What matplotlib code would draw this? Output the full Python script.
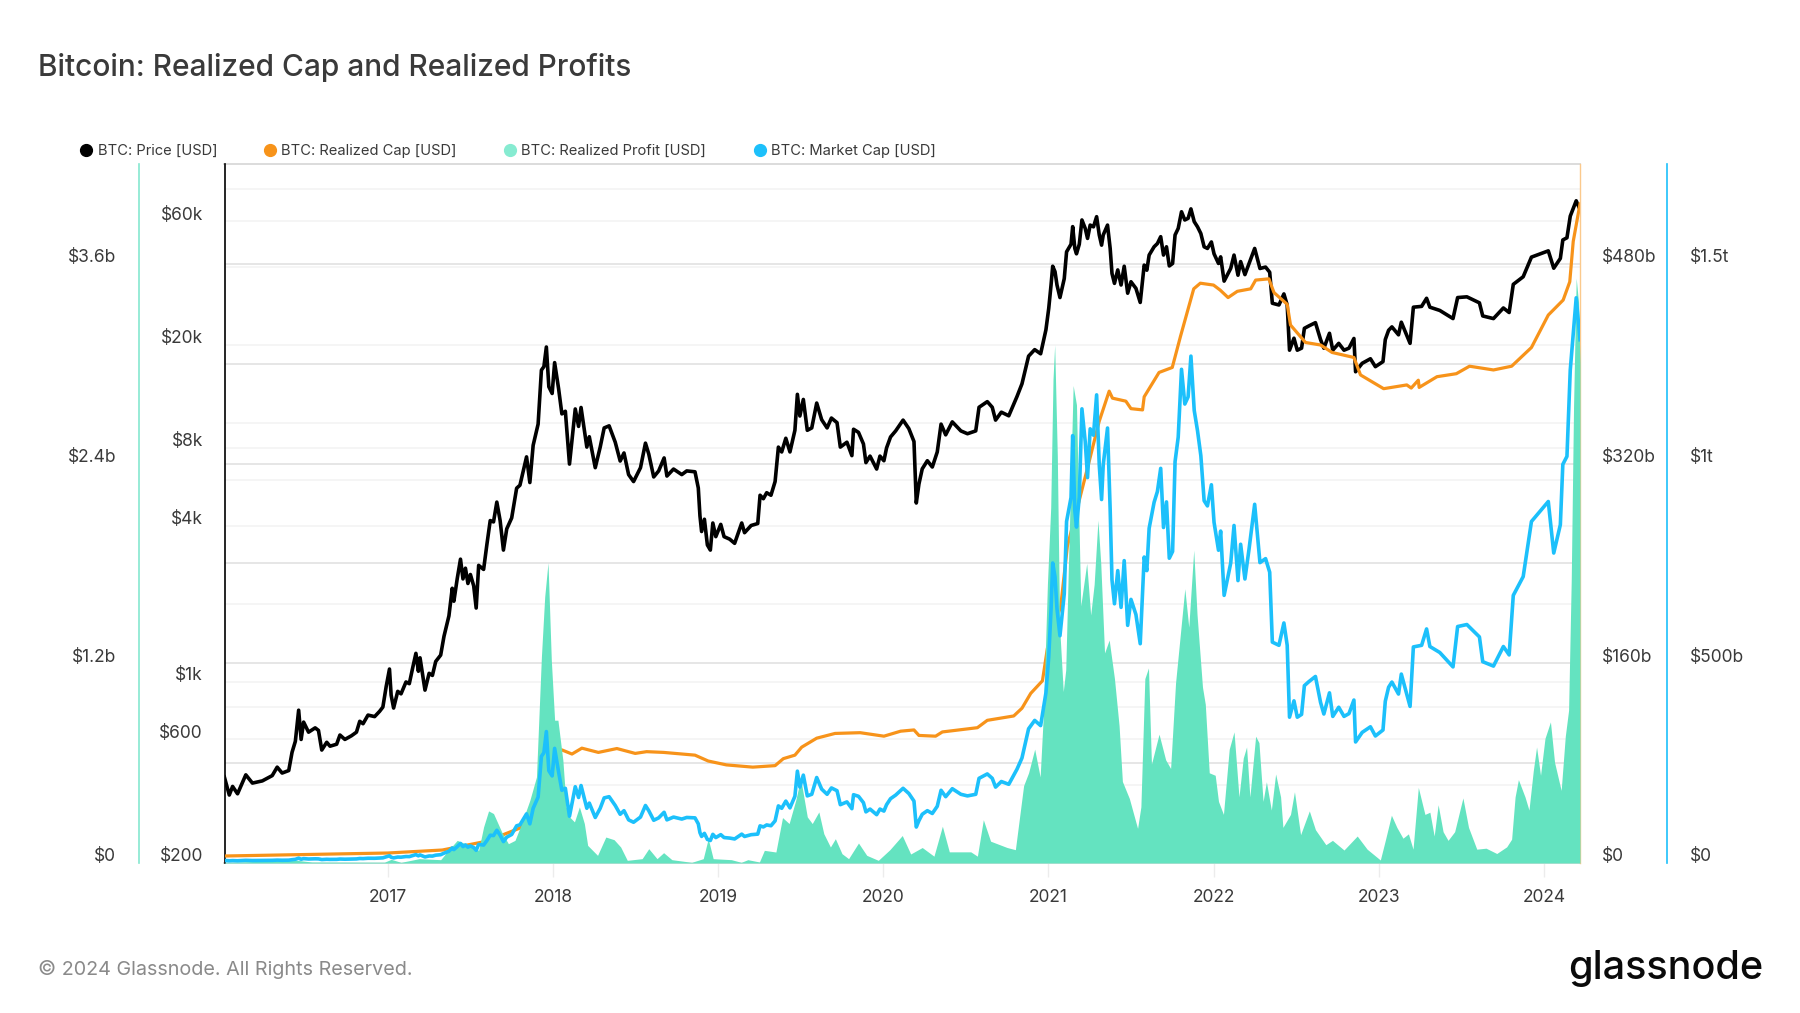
#Bitcoin realized cap and realized profits chart

#import statements
import matplotlib
matplotlib.use("Agg")
import matplotlib.pyplot as plt
from matplotlib.lines import Line2D
from matplotlib.transforms import ScaledTranslation

plt.rcParams['font.family'] = ['Inter', 'DejaVu Sans']

#price and market cap share the same dates (decimal years)
price_years = [2016.01, 2016.04, 2016.06, 2016.09, 2016.14, 2016.18, 2016.24, 2016.30, 2016.33, 2016.36, 2016.40, 2016.42, 2016.44, 2016.46, 2016.475, 2016.49, 2016.52, 2016.56, 2016.58, 2016.60, 2016.63, 2016.65, 2016.69, 2016.71, 2016.74, 2016.78, 2016.81, 2016.83, 2016.85, 2016.88, 2016.92, 2016.95, 2016.97, 2016.99,
    2017.01, 2017.02, 2017.035, 2017.06, 2017.08, 2017.11, 2017.13, 2017.15, 2017.17, 2017.185, 2017.195, 2017.225, 2017.25, 2017.27, 2017.29, 2017.32, 2017.34, 2017.37, 2017.39, 2017.40, 2017.42, 2017.44, 2017.455, 2017.47, 2017.485, 2017.50, 2017.52, 2017.535, 2017.55, 2017.58, 2017.60, 2017.62, 2017.64, 2017.66, 2017.68, 2017.70, 2017.72, 2017.75, 2017.78, 2017.80, 2017.84, 2017.86, 2017.88, 2017.91, 2017.93, 2017.945, 2017.96, 2017.975, 2017.995,
    2018.01, 2018.034, 2018.054, 2018.075, 2018.10, 2018.135, 2018.155, 2018.17, 2018.205, 2018.22, 2018.256, 2018.286, 2018.31, 2018.34, 2018.377, 2018.407, 2018.43, 2018.458, 2018.488, 2018.53, 2018.56, 2018.58, 2018.61, 2018.64, 2018.673, 2018.69, 2018.73, 2018.78, 2018.81, 2018.86, 2018.88, 2018.89, 2018.90, 2018.917, 2018.935, 2018.953, 2018.968, 2018.986,
    2019.016, 2019.036, 2019.07, 2019.10, 2019.143, 2019.16, 2019.20, 2019.24, 2019.254, 2019.274, 2019.294, 2019.32, 2019.345, 2019.365, 2019.385, 2019.41, 2019.435, 2019.465, 2019.48, 2019.495, 2019.516, 2019.54, 2019.567, 2019.597, 2019.627, 2019.66, 2019.686, 2019.72, 2019.74, 2019.78, 2019.81, 2019.82, 2019.85, 2019.88, 2019.895, 2019.92, 2019.96, 2019.98,
    2020.004, 2020.02, 2020.044, 2020.075, 2020.12, 2020.155, 2020.186, 2020.20, 2020.216, 2020.236, 2020.267, 2020.297, 2020.327, 2020.35, 2020.378, 2020.418, 2020.47, 2020.51, 2020.56, 2020.58, 2020.63, 2020.66, 2020.68, 2020.715, 2020.76, 2020.81, 2020.84, 2020.88, 2020.917, 2020.953, 2020.985,
    2021.002, 2021.016, 2021.026, 2021.04, 2021.052, 2021.07, 2021.096, 2021.11, 2021.137, 2021.147, 2021.16, 2021.17, 2021.187, 2021.203, 2021.223, 2021.237, 2021.253, 2021.273, 2021.292, 2021.308, 2021.322, 2021.332, 2021.358, 2021.374, 2021.385, 2021.40, 2021.42, 2021.44, 2021.459, 2021.48, 2021.50, 2021.53, 2021.556, 2021.58, 2021.596, 2021.61, 2021.64, 2021.66, 2021.68, 2021.697, 2021.715, 2021.732, 2021.752, 2021.767, 2021.786, 2021.806, 2021.826, 2021.846, 2021.863, 2021.883, 2021.903, 2021.923, 2021.943, 2021.963, 2021.987,
    2022.003, 2022.03, 2022.043, 2022.064, 2022.104, 2022.124, 2022.148, 2022.164, 2022.19, 2022.215, 2022.249, 2022.281, 2022.315, 2022.34, 2022.356, 2022.396, 2022.426, 2022.446, 2022.46, 2022.487, 2022.507, 2022.533, 2022.55, 2022.577, 2022.617, 2022.648, 2022.668, 2022.702, 2022.722, 2022.758, 2022.79, 2022.82, 2022.85, 2022.86, 2022.90, 2022.95, 2022.98,
    2023.026, 2023.04, 2023.06, 2023.08, 2023.12, 2023.137, 2023.19, 2023.21, 2023.26, 2023.29, 2023.31, 2023.37, 2023.45, 2023.478, 2023.534, 2023.61, 2023.63, 2023.695, 2023.755, 2023.79, 2023.815, 2023.875, 2023.925,
    2024.027, 2024.06, 2024.10, 2024.115, 2024.14, 2024.16, 2024.196, 2024.219]

price_usd = [430, 366, 395, 370, 438, 407, 415, 435, 469, 445, 455, 535, 590, 778, 600, 700, 640, 665, 650, 546, 585, 565, 575, 624, 600, 620, 640, 705, 690, 745, 735, 770, 800, 960,
    1122, 890, 793, 920, 900, 1000, 985, 1130, 1290, 1100, 1240, 930, 1080, 1060, 1200, 1270, 1500, 1800, 2300, 2050, 2500, 2980, 2500, 2750, 2400, 2600, 2350, 1930, 2820, 2720, 3400, 4200, 4150, 4950, 4200, 3230, 3900, 4300, 5600, 5750, 7400, 5890, 8200, 9900, 16000, 16500, 19650, 13800, 13000,
    17100, 13580, 10840, 11100, 6940, 11330, 9700, 11480, 8070, 8850, 6720, 8070, 9570, 9750, 8430, 7130, 7660, 6320, 5940, 6720, 8360, 7590, 6190, 6530, 7330, 6240, 6640, 6320, 6530, 6480, 5610, 4380, 3810, 4250, 3380, 3230, 4110, 3640,
    4060, 3640, 3560, 3430, 4110, 3770, 4020, 4090, 5260, 5100, 5380, 5260, 5940, 8070, 7730, 8730, 7730, 9370, 12900, 10640, 12330, 9370, 9570, 11940, 10300, 9570, 10450, 10030, 8070, 8430, 7480, 9460, 9200, 8300, 7030, 7450, 6640, 7450,
    7150, 8010, 8830, 9320, 10260, 9510, 8480, 4910, 5810, 6650, 7150, 6760, 7730, 9900, 9000, 10100, 9320, 9090, 9320, 11500, 12090, 11500, 10260, 11010, 10660, 12660, 14170, 18120, 19200, 18500, 22900,
    27700, 34100, 40300, 38400, 34100, 30500, 36100, 45800, 49000, 57300, 47200, 45000, 49000, 60800, 56400, 51600, 58100, 57200, 62600, 53200, 48600, 53200, 58100, 47200, 37800, 34600, 39000, 34100, 40300, 31700, 35100, 33100, 29200, 40700, 38900, 44500, 47900, 49300, 52400, 44500, 47900, 40400, 41300, 53200, 56400, 65400, 60800, 61700, 67100, 59900, 57200, 53900, 47900, 47200, 50000,
    45000, 41300, 43800, 35300, 39540, 44500, 37200, 42000, 37400, 41300, 47200, 39500, 40000, 38200, 29000, 28550, 31500, 28550, 19100, 21250, 19100, 19450, 23200, 23700, 24400, 21000, 19450, 22200, 19100, 20300, 19100, 19450, 21200, 15770, 17000, 17700, 16500,
    17260, 21000, 22800, 23500, 21900, 24500, 20300, 28000, 28200, 30300, 28000, 27200, 25300, 30500, 30700, 29100, 25900, 25300, 27800, 26700, 34300, 36700, 43700,
    46200, 39600, 43200, 50900, 51900, 62900, 72100, 66700]

market_cap_b = [6.5, 5.5, 6.0, 5.6, 6.7, 6.2, 6.4, 6.7, 7.2, 6.9, 7.1, 8.3, 9.2, 12.1, 9.4, 11.0, 10.0, 10.5, 10.3, 8.6, 9.3, 9.0, 9.1, 9.9, 9.5, 9.9, 10.2, 11.3, 11.0, 11.9, 11.8, 12.4, 12.9, 15.4,
    18.1, 14.4, 12.8, 14.9, 14.6, 16.2, 16.0, 18.4, 21.0, 17.9, 20.2, 15.2, 17.6, 17.3, 19.6, 20.8, 24.6, 29.5, 37.7, 33.6, 41.0, 48.9, 41.1, 45.2, 39.5, 42.8, 38.7, 31.8, 46.5, 44.9, 56.2, 69.5, 68.7, 82.0, 69.6, 53.6, 64.7, 71.4, 93.1, 95.6, 123, 98, 137, 165, 267, 276, 329, 231, 218,
    287, 228, 182, 187, 117, 191, 164, 194, 137, 150, 114, 137, 163, 166, 144, 122, 131, 108, 102, 115, 144, 131, 107, 113, 127, 108, 115, 110, 114, 113, 98, 76, 66.5, 74.2, 59, 56.4, 71.8, 63.6,
    71, 63.7, 62.4, 60.2, 72.3, 66.4, 70.9, 72.3, 93, 90.3, 95.3, 93.3, 105.5, 143, 137, 155, 138, 167, 230, 190, 220, 168, 172, 214, 185, 172, 188, 181, 146, 153, 136, 171, 167, 151, 128, 135, 121, 135,
    130, 146, 161, 170, 187, 174, 155, 90, 106, 122, 131, 124, 142, 182, 166, 186, 172, 168, 172, 212, 223, 212, 190, 204, 197, 235, 263, 336, 357, 344, 426,
    516, 635, 751, 716, 636, 569, 674, 855, 915, 1070, 882, 841, 916, 1137, 1055, 965, 1087, 1071, 1172, 996, 910, 997, 1089, 885, 709, 649, 732, 640, 757, 595, 660, 622, 549, 766, 732, 838, 903, 930, 988, 840, 904, 763, 780, 1005, 1066, 1236, 1149, 1167, 1269, 1133, 1082, 1020, 907, 894, 947,
    853, 783, 831, 670, 751, 845, 707, 798, 711, 786, 898, 752, 762, 728, 553, 545, 601, 545, 365, 406, 365, 372, 444, 454, 467, 402, 373, 426, 367, 390, 367, 374, 408, 303, 327, 341, 318,
    333, 405, 440, 453, 423, 473, 392, 541, 545, 586, 542, 527, 491, 592, 597, 566, 504, 493, 542, 521, 670, 717, 855,
    905, 776, 847, 998, 1018, 1234, 1415, 1310]

#realized cap in billions
cap_years = [2016.01, 2017.0, 2017.33, 2017.6, 2017.8, 2017.87, 2017.9, 2017.95, 2018.0, 2018.03, 2018.054, 2018.115, 2018.175, 2018.275, 2018.387, 2018.498, 2018.567, 2018.67, 2018.86, 2018.94,
    2019.05, 2019.21, 2019.345, 2019.395, 2019.465, 2019.506, 2019.597, 2019.708, 2019.86, 2020.004, 2020.105, 2020.186, 2020.216, 2020.317, 2020.358, 2020.57, 2020.63, 2020.79, 2020.84, 2020.893, 2020.964, 2020.994,
    2021.075, 2021.115, 2021.176, 2021.236, 2021.307, 2021.368, 2021.388, 2021.469, 2021.50, 2021.57, 2021.58, 2021.67, 2021.75, 2021.80, 2021.84, 2021.88, 2021.92,
    2022.0, 2022.04, 2022.088, 2022.144, 2022.225, 2022.255, 2022.335, 2022.366, 2022.446, 2022.466, 2022.557, 2022.648, 2022.718, 2022.85, 2022.89,
    2023.03, 2023.17, 2023.197, 2023.24, 2023.245, 2023.353, 2023.47, 2023.55, 2023.695, 2023.805, 2023.925, 2024.027, 2024.117, 2024.157, 2024.178, 2024.219]
cap_b = [5.6, 8, 10.4, 17.5, 28, 35, 42, 60, 80, 88, 90.6, 87.3, 92, 88.6, 91.7, 87.8, 89.2, 88.6, 86.4, 81.7,
    78.6, 76.8, 78, 83.6, 86.4, 92.8, 100, 103.8, 104.4, 101.6, 105.6, 106.6, 102.2, 101.6, 105, 108.4, 114.3, 117.8, 124, 135.9, 146, 172,
    206, 254, 285, 316, 353.6, 378, 372.4, 370, 364, 363, 373.5, 393, 397, 422, 441, 460, 464.5,
    463, 459, 453, 458, 460, 467, 468, 457, 447.6, 431, 417, 415, 409, 405, 391,
    380, 383, 380.5, 386.8, 381, 389.6, 392, 398, 395, 398, 413, 439, 451, 465.6, 498, 528]

#realized profit in billions
profit_years = [2016.01, 2016.45, 2016.54, 2016.98, 2017.02, 2017.08, 2017.19, 2017.32, 2017.35, 2017.42, 2017.47, 2017.55, 2017.58, 2017.61, 2017.64, 2017.69, 2017.73, 2017.77, 2017.81, 2017.86, 2017.90, 2017.93, 2017.95, 2017.97, 2017.99,
    2018.01, 2018.03, 2018.06, 2018.08, 2018.10, 2018.13, 2018.16, 2018.19, 2018.21, 2018.27, 2018.32, 2018.37, 2018.41, 2018.45, 2018.54, 2018.58, 2018.63, 2018.67, 2018.72, 2018.84, 2018.91, 2018.94, 2018.97,
    2019.08, 2019.14, 2019.18, 2019.25, 2019.28, 2019.35, 2019.39, 2019.43, 2019.47, 2019.50, 2019.54, 2019.57, 2019.61, 2019.64, 2019.68, 2019.71, 2019.75, 2019.79, 2019.85, 2019.90, 2019.97,
    2020.04, 2020.115, 2020.166, 2020.236, 2020.307, 2020.358, 2020.40, 2020.53, 2020.57, 2020.606, 2020.65, 2020.75, 2020.80, 2020.82, 2020.85, 2020.88, 2020.917, 2020.95, 2020.97, 2020.994,
    2021.014, 2021.028, 2021.038, 2021.054, 2021.068, 2021.09, 2021.105, 2021.125, 2021.15, 2021.17, 2021.196, 2021.232, 2021.256, 2021.277, 2021.30, 2021.317, 2021.34, 2021.368, 2021.40, 2021.428, 2021.448, 2021.49, 2021.54, 2021.56, 2021.584, 2021.606, 2021.624, 2021.67, 2021.71, 2021.74, 2021.77, 2021.826, 2021.85, 2021.88, 2021.90, 2021.933, 2021.95, 2021.974,
    2022.01, 2022.03, 2022.06, 2022.095, 2022.124, 2022.154, 2022.18, 2022.20, 2022.22, 2022.255, 2022.275, 2022.30, 2022.32, 2022.35, 2022.376, 2022.406, 2022.42, 2022.466, 2022.49, 2022.527, 2022.58, 2022.617, 2022.68, 2022.72, 2022.79, 2022.87, 2022.93,
    2023.01, 2023.04, 2023.077, 2023.11, 2023.147, 2023.18, 2023.208, 2023.24, 2023.28, 2023.31, 2023.336, 2023.36, 2023.39, 2023.42, 2023.46, 2023.51, 2023.544, 2023.594, 2023.65, 2023.715, 2023.775, 2023.805, 2023.826, 2023.846, 2023.886, 2023.91, 2023.936, 2023.956, 2023.98,
    2024.007, 2024.04, 2024.065, 2024.105, 2024.13, 2024.15, 2024.166, 2024.18, 2024.196, 2024.21, 2024.219]
profit_b = [0.004, 0.016, 0.006, 0.005, 0.022, 0.004, 0.026, 0.02, 0.056, 0.136, 0.116, 0.076, 0.217, 0.313, 0.297, 0.186, 0.116, 0.136, 0.237, 0.377, 0.517, 1.239, 1.6, 1.805, 1.219,
    0.858, 0.858, 0.617, 0.337, 0.277, 0.247, 0.337, 0.237, 0.106, 0.046, 0.156, 0.14, 0.096, 0.016, 0.026, 0.086, 0.026, 0.062, 0.02, 0.004, 0.026, 0.146, 0.026,
    0.02, 0.004, 0.02, 0.006, 0.076, 0.066, 0.273, 0.237, 0.377, 0.507, 0.277, 0.237, 0.307, 0.176, 0.096, 0.146, 0.056, 0.026, 0.12, 0.046, 0.016,
    0.08, 0.165, 0.054, 0.093, 0.041, 0.221, 0.067, 0.067, 0.041, 0.26, 0.131, 0.093, 0.08, 0.234, 0.465, 0.542, 0.684, 0.517, 0.902, 1.674,
    2.136, 2.908, 3.113, 2.445, 1.417, 1.03, 1.16, 1.93, 2.869, 2.753, 1.545, 1.80, 1.49, 1.674, 2.06, 1.80, 1.262, 1.34, 1.108, 0.825, 0.49, 0.388, 0.208, 0.337, 1.108, 1.172, 0.594, 0.774, 0.62, 0.568, 1.082, 1.648, 1.417, 1.88, 1.494, 1.057, 0.954, 0.542,
    0.527, 0.37, 0.292, 0.684, 0.788, 0.397, 0.631, 0.697, 0.397, 0.762, 0.723, 0.37, 0.488, 0.318, 0.535, 0.397, 0.214, 0.292, 0.428, 0.17, 0.313, 0.2, 0.11, 0.136, 0.078, 0.162, 0.083,
    0.018, 0.136, 0.287, 0.214, 0.149, 0.175, 0.083, 0.454, 0.292, 0.305, 0.162, 0.35, 0.188, 0.136, 0.188, 0.391, 0.214, 0.083, 0.089, 0.057, 0.097, 0.143, 0.397, 0.501, 0.397, 0.318, 0.553, 0.697, 0.527,
    0.749, 0.848, 0.605, 0.436, 0.762, 0.918, 1.70, 2.745, 3.514, 3.37, 3.0]

#tick values and labels
year_ticks = [2017, 2018, 2019, 2020, 2021, 2022, 2023, 2024]
price_ticks = [200, 400, 600, 800, 1000, 2000, 4000, 6000, 8000, 10000, 20000, 40000, 60000, 80000]
price_labels = ['$200', '', '$600', '', '$1k', '', '$4k', '', '$8k', '', '$20k', '', '$60k', '']
cap_ticks = [0, 160, 320, 480]
cap_labels = ['$0', '$160b', '$320b', '$480b']
profit_ticks = [0, 1.2, 2.4, 3.6]
profit_labels = ['$0', '$1.2b', '$2.4b', '$3.6b']
mcap_ticks = [0, 500, 1000, 1500]
mcap_labels = ['$0', '$500b', '$1t', '$1.5t']
grid_ticks = [0, 80, 160, 240, 320, 400, 480, 560]

legend_names = ['BTC: Price [USD]', 'BTC: Realized Cap [USD]', 'BTC: Realized Profit [USD]', 'BTC: Market Cap [USD]']

BLACK = '#000000'
ORANGE = '#f7931a'
TEAL = '#64e3c0'
BLUE = '#1cc0fb'
TEXT = '#3a3a3a'

W, H = 1800, 1013
LEFT, RIGHT, TOP, BOTTOM = 224.5, 1580, 164, 863


def style_labels(ax, ticks, labels, pad, size=12.5):
#sets value labels and moves them a little above their grid lines
    ax.set_yticks(ticks)
    ax.set_yticklabels(labels)
    ax.tick_params(axis='y', length=0, pad=pad)
    nudge = ScaledTranslation(0, -2.3 / 100, fig.dpi_scale_trans)
    for label in ax.get_yticklabels():
        label.set_verticalalignment('bottom')
        label.set_fontsize(size)
        label.set_color(TEXT)
        label.set_transform(label.get_transform() + nudge)


fig = plt.figure(figsize=(W / 100, H / 100), dpi=100)
rect = [LEFT / W, 1 - BOTTOM / H, (RIGHT - LEFT) / W, (BOTTOM - TOP) / H]

#base axes only holds the strong grid lines so they stay behind everything
ax_grid = fig.add_axes(rect)
ax_grid.set_ylim(0, 560)
ax_grid.set_yticks(grid_ticks)
ax_grid.set_yticklabels([])
ax_grid.tick_params(axis='y', length=0)
ax_grid.grid(axis='y', color='#e2e2e2', linewidth=1.2)
ax_grid.set_axisbelow(True)
ax_grid.set_xlim(2016.011, 2024.219)
ax_grid.set_xticks(year_ticks)
ax_grid.set_xticklabels([str(y) for y in year_ticks], fontsize=12.5, color=TEXT)
ax_grid.tick_params(axis='x', length=10, width=1, color='#ececec', pad=8.7)
for side in ['left', 'right']:
    ax_grid.spines[side].set_visible(False)
for side in ['top', 'bottom']:
    ax_grid.spines[side].set_color('#dcdcdc')
    ax_grid.spines[side].set_linewidth(1.4)

#price, log scale
ax_price = ax_grid.twinx()
ax_price.set_yscale('log')
ax_price.set_ylim(200, 100000)
ax_price.yaxis.tick_left()
ax_price.minorticks_off()
ax_price.grid(axis='y', color='#f3f3f3', linewidth=1.2)
ax_price.plot(price_years, price_usd, color=BLACK, linewidth=2.6, solid_joinstyle='round')
for side in ['right', 'top', 'bottom']:
    ax_price.spines[side].set_visible(False)
ax_price.spines['left'].set_color(BLACK)
ax_price.spines['left'].set_linewidth(1.2)
style_labels(ax_price, price_ticks, price_labels, 15.5)
ax_price.minorticks_off()

#realized cap, right axis
ax_cap = ax_grid.twinx()
ax_cap.set_ylim(0, 560)
ax_cap.plot(cap_years, cap_b, color=ORANGE, linewidth=2.3)
for side in ['left', 'top', 'bottom']:
    ax_cap.spines[side].set_visible(False)
ax_cap.spines['right'].set_color('#fbc98c')
ax_cap.spines['right'].set_linewidth(1.0)
style_labels(ax_cap, cap_ticks, cap_labels, 16)

#realized profit, outer left axis
ax_profit = ax_grid.twinx()
ax_profit.set_ylim(0, 4.2)
ax_profit.yaxis.tick_left()
ax_profit.fill_between(profit_years, profit_b, color=TEAL, linewidth=0)
for side in ['right', 'top', 'bottom']:
    ax_profit.spines[side].set_visible(False)
ax_profit.spines['left'].set_position(('outward', 61.6))
ax_profit.spines['left'].set_color('#85e8cf')
ax_profit.spines['left'].set_linewidth(1.2)
style_labels(ax_profit, profit_ticks, profit_labels, 16.5)

#market cap, outer right axis
ax_mcap = ax_grid.twinx()
ax_mcap.set_ylim(0, 1750)
ax_mcap.plot(price_years, market_cap_b, color=BLUE, linewidth=2.6, solid_joinstyle='round')
for side in ['left', 'top', 'bottom']:
    ax_mcap.spines[side].set_visible(False)
ax_mcap.spines['right'].set_position(('outward', 62.6))
ax_mcap.spines['right'].set_color(BLUE)
ax_mcap.spines['right'].set_linewidth(1.2)
style_labels(ax_mcap, mcap_ticks, mcap_labels, 16.5)

#title, legend and footer
fig.text(38 / W, 1 - 67 / H, 'Bitcoin: Realized Cap and Realized Profits', fontsize=21.5, color=TEXT, va='center', fontweight='medium')

legend_dots = [86, 270, 510, 760]
legend_text = [97.5, 281, 521, 771]
legend_colors = [BLACK, ORANGE, '#86ebd1', BLUE]
for i in range(len(legend_names)):
    fig.add_artist(Line2D([legend_dots[i] / W], [1 - 150 / H], marker='o', markersize=8.5, color=legend_colors[i], linestyle='none', transform=fig.transFigure))
    fig.text(legend_text[i] / W, 1 - 150.5 / H, legend_names[i], fontsize=10.6, color=TEXT, va='center')

fig.text(38 / W, 1 - 969 / H, '© 2024 Glassnode. All Rights Reserved.', fontsize=14.25, color='#8a8a8a', va='center')
fig.text(1763 / W, 1 - 968 / H, 'glassnode', fontsize=28.5, color='#0a0a0a', va='center', ha='right', fontweight='medium')

fig.savefig('out.png', dpi=100)
